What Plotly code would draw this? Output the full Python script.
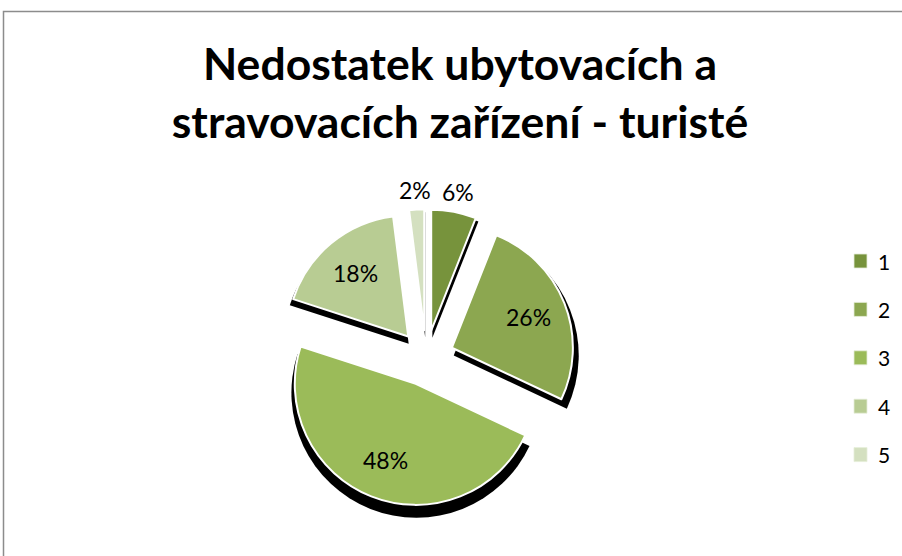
import math
import plotly.graph_objects as go

# ---- data ----
categories = ["1", "2", "3", "4", "5"]
values = [6, 26, 48, 18, 2]
pulls = [0.23, 0.23, 0.23, 0.23, 0.23]
colors = ["#77933C", "#8CA750", "#9BBB59", "#B8CC93", "#D4E0C0"]
label_outside = [True, False, False, False, True]
title_text = "Nedostatek ubytovacích a<br>stravovacích zařízení - turisté"

W, H = 902, 556
FONT = "Lato, Carlito, Calibri, sans-serif"

# pie geometry (pixels)
CX, CY, R = 426, 358, 121
SH_CX, SH_CY, SH_R = 427, 366, 125


def dom(cx, cy, r, pull):
    half = r * (1 + pull)
    return dict(x=[(cx - half) / W, (cx + half) / W],
                y=[(H - cy - half) / H, (H - cy + half) / H])


maxpull = max(pulls)
fig = go.Figure()

# shadow pie (behind)
fig.add_trace(go.Pie(
    labels=categories, values=values, sort=False, direction="clockwise",
    rotation=0, pull=pulls, textinfo="none", hoverinfo="skip",
    showlegend=False,
    marker=dict(colors=["#000000"] * len(values), line=dict(color="#000000", width=0)),
    domain=dom(SH_CX, SH_CY, SH_R, maxpull),
))

# main pie
fig.add_trace(go.Pie(
    labels=categories, values=values, sort=False, direction="clockwise",
    rotation=0, pull=pulls, textinfo="none",
    hovertemplate="%{label}: %{value}%<extra></extra>",
    showlegend=False,
    marker=dict(colors=colors, line=dict(color="#FFFFFF", width=2)),
    domain=dom(CX, CY, R, maxpull),
))

# data labels placed along each slice's mid-angle
annotations = []
total = sum(values)
cum = 0
for v, p, outside in zip(values, pulls, label_outside):
    mid = (cum + v / 2) / total * 2 * math.pi
    cum += v
    dx, dy = math.sin(mid), -math.cos(mid)
    ax, ay = CX + dx * p * R, CY + dy * p * R
    dist = R + 20 if outside else R * 0.68
    lx, ly = ax + dx * dist, ay + dy * dist
    annotations.append(dict(text=f"{v}%", xref="paper", yref="paper",
                            x=lx / W, y=(H - ly) / H, xanchor="center",
                            yanchor="middle", showarrow=False,
                            font=dict(family=FONT, size=23, color="#000000")))

shapes = [dict(type="rect", xref="paper", yref="paper",
               x0=3.5 / W, x1=1.05, y0=-0.05, y1=1 - 11.5 / H,
               line=dict(color="#8C8C8C", width=1.5), fillcolor="rgba(0,0,0,0)",
               layer="below")]
for i, (cat, col) in enumerate(zip(categories, colors)):
    yc = 261 + i * 48.4
    shapes.append(dict(type="rect", xref="paper", yref="paper",
                       x0=854 / W, x1=867 / W,
                       y0=(H - yc - 7) / H, y1=(H - yc + 7) / H,
                       fillcolor=col, line=dict(color="#E6EDD9", width=0.8)))
    annotations.append(dict(text=cat, xref="paper", yref="paper",
                            x=876 / W, y=(H - yc) / H, xanchor="left",
                            yanchor="middle", showarrow=False,
                            font=dict(family=FONT, size=21, color="#000000")))

fig.update_layout(
    width=W, height=H,
    margin=dict(l=0, r=0, t=0, b=0),
    paper_bgcolor="#FFFFFF", plot_bgcolor="#FFFFFF",
    title=dict(text=title_text, x=460 / W, xanchor="center",
               y=1 - 80 / H, yanchor="top", yref="container",
               font=dict(family=FONT, size=44.5, color="#000000", weight="bold")),
    shapes=shapes, annotations=annotations,
    showlegend=False,
)

fig.write_html("out.html", config={"displayModeBar": False},
               post_script="document.body.style.margin='0';document.body.style.overflow='hidden';")
